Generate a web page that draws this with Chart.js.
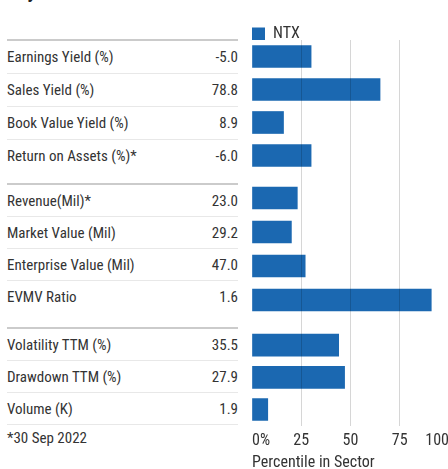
<!DOCTYPE html>
<html>
<head>
<meta charset="utf-8">
<script src="https://cdn.jsdelivr.net/npm/chart.js@4.4.0/dist/chart.umd.min.js"></script>
<style>
html, body { margin: 0; padding: 0; overflow: hidden; background: #fff; }
body { width: 448px; height: 469px; position: relative; font-family: "Roboto Condensed", Roboto, sans-serif; color: #333; }
.heading { position: absolute; left: 7px; top: -19px; font-size: 20px; line-height: 20px; font-weight: bold; color: #222; }
.group { position: absolute; left: 7px; width: 231px; border-top: 2px solid #cbcbcb; }
.row { display: flex; justify-content: space-between; box-sizing: border-box; border-bottom: 1px solid #e8e8e8; font-size: 15px; padding-top: 1px; }
.row.last { border-bottom: none; }
.note { position: absolute; left: 7px; top: 428px; font-size: 15px; line-height: 20px; }
canvas { position: absolute; left: 252px; }
</style>
</head>
<body>
<div class="heading">Key Metrics</div>
<div id="table"></div>
<div class="note">*30 Sep 2022</div>
<canvas id="c1" width="197" height="155" style="top:26px"></canvas>
<canvas id="c2" width="197" height="148" style="top:181px"></canvas>
<canvas id="c3" width="197" height="144" style="top:329px"></canvas>
<script>
// metrics and their values, in table order
const metricNames = [
    "Earnings Yield (%)", "Sales Yield (%)", "Book Value Yield (%)", "Return on Assets (%)*",
    "Revenue(Mil)*", "Market Value (Mil)", "Enterprise Value (Mil)", "EVMV Ratio",
    "Volatility TTM (%)", "Drawdown TTM (%)", "Volume (K)"
];
const metricValues = [-5.0, 78.8, 8.9, -6.0, 23.0, 29.2, 47.0, 1.6, 35.5, 27.9, 1.9];
// percentile in sector for NTX
const percentiles = [30, 65, 16, 30, 23, 20, 27, 91, 44, 47, 8];
const groupSizes = [4, 4, 3];
const seriesName = "NTX";
const tickValues = [0, 25, 50, 75, 100];

const blue = "#1b68b1";
const gridColor = "rgba(0,0,0,0.16)";
const font = "'Roboto Condensed', Roboto, sans-serif";

// layout of the three groups (table side)
const groupTops = [39, 183, 327];
const rowPitch = [33, 32, 32];

var table = document.getElementById("table");
var start = 0;
groupSizes.forEach(function(n, g) {
    var div = document.createElement("div");
    div.className = "group";
    div.style.top = groupTops[g] + "px";
    for (var i = start; i < start + n; i++) {
        var row = document.createElement("div");
        row.className = "row" + (i == start + n - 1 && g < 2 ? " last" : "");
        row.style.height = rowPitch[g] + "px";
        row.style.lineHeight = (rowPitch[g] - 2) + "px";
        row.innerHTML = "<span>" + metricNames[i] + "</span><span>" + metricValues[i].toFixed(1) + "</span>";
        div.appendChild(row);
    }
    table.appendChild(div);
    start += n;
});

function makeChart(id, g, opts) {
    var from = groupSizes.slice(0, g).reduce(function(a, b) { return a + b; }, 0);
    var to = from + groupSizes[g];
    return new Chart(document.getElementById(id), {
        type: "bar",
        data: {
            labels: metricNames.slice(from, to),
            datasets: [{
                label: seriesName,
                data: percentiles.slice(from, to),
                backgroundColor: blue,
                borderWidth: 0,
                barThickness: 22
            }]
        },
        options: {
            indexAxis: "y",
            responsive: false,
            animation: false,
            layout: { padding: 0 },
            plugins: {
                legend: opts.legend,
                tooltip: { enabled: false }
            },
            scales: {
                x: {
                    min: 0,
                    max: 100,
                    afterBuildTicks: function(scale) {
                        scale.ticks = tickValues.map(function(v) { return { value: v }; });
                    },
                    border: { display: false },
                    grid: {
                        z: 1,
                        color: function(ctx) {
                            return ctx.tick && ctx.tick.value === 0 ? "rgba(0,0,0,0)" : gridColor;
                        },
                        tickColor: opts.tickColor,
                        drawTicks: true,
                        tickLength: opts.tickLength
                    },
                    ticks: opts.ticks,
                    title: opts.title
                },
                y: { display: false }
            }
        }
    });
}

makeChart("c1", 0, {
    legend: {
        display: true,
        align: "start",
        maxHeight: 14,
        labels: {
            boxWidth: 13,
            boxHeight: 13,
            padding: 0,
            color: "#333",
            font: { family: font, size: 16 }
        }
    },
    tickLength: 9,
    ticks: { display: false },
    title: { display: false }
});

makeChart("c2", 1, {
    legend: { display: false },
    tickLength: 12,
    ticks: { display: false },
    title: { display: false }
});

// bottom group carries the axis labels; the transparent tick marks only make room
makeChart("c3", 2, {
    legend: { display: false },
    tickLength: 6,
    tickColor: "rgba(0,0,0,0)",
    ticks: {
        display: true,
        align: "inner",
        padding: 0,
        maxRotation: 0,
        color: "#333",
        font: { family: font, size: 16 },
        callback: function(v) { return v === 0 ? v + "%" : v; }
    },
    title: {
        display: true,
        text: "Percentile in Sector",
        align: "start",
        color: "#333",
        padding: { top: 3, bottom: 0 },
        font: { family: font, size: 16 }
    }
});
</script>
</body>
</html>
